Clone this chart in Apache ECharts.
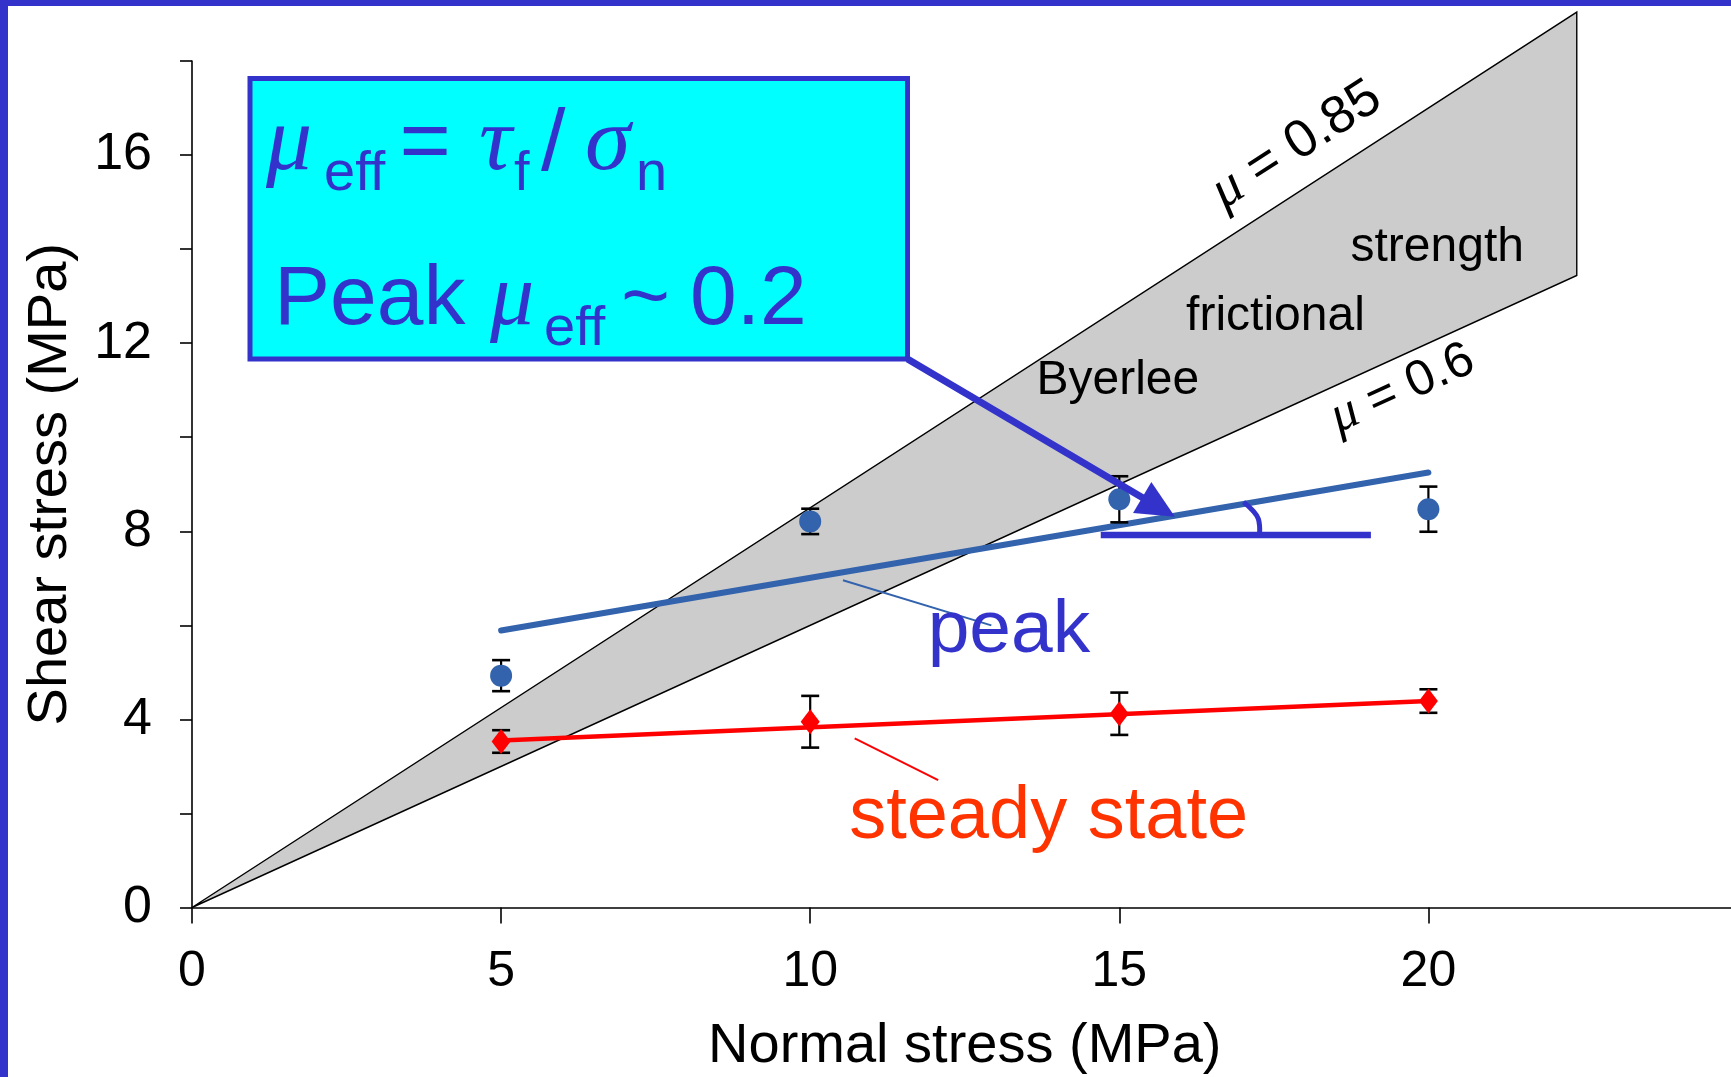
<!DOCTYPE html>
<html>
<head>
<meta charset="utf-8">
<script src="https://cdn.jsdelivr.net/npm/echarts@6/dist/echarts.min.js"></script>
<style>
  html, body { margin: 0; padding: 0; background: #ffffff; }
  #chart { width: 1731px; height: 1077px; }
</style>
</head>
<body>
<div id="chart"></div>
<script>
// Normal stress applied in each test (MPa)
const normalStress = [5, 10, 15, 20];
// Peak shear stress with its scatter (MPa)
const peakShear = [4.93, 8.21, 8.68, 8.47];
const peakErr = [0.33, 0.27, 0.49, 0.48];
// Steady-state shear stress with its scatter (MPa)
const steadyShear = [3.53, 3.95, 4.12, 4.39];
const steadyErr = [0.24, 0.55, 0.45, 0.25];
// Straight-line fits through each data set: [normal stress, shear stress]
const peakFit = [[5, 5.89], [20, 9.25]];
const steadyFit = [[5, 3.55], [20, 4.39]];
// Byerlee friction band: upper and lower friction coefficients, band end (MPa)
const byerleeMu = [0.85, 0.6];
const byerleeEnd = 22.4;
// Labelled ticks
const xTickLabels = [0, 5, 10, 15, 20];
const yTickLabels = [0, 4, 8, 12, 16];

const SANS = '"Liberation Sans", Arial, Helvetica, sans-serif';
const SERIF = '"Liberation Serif", "Times New Roman", serif';
const BLUE = '#3333CC';
const DATA_BLUE = '#3363AD';
const RED = '#FF0000';

const chart = echarts.init(document.getElementById('chart'), null, { renderer: 'canvas' });

chart.setOption({
  animation: false,
  backgroundColor: '#ffffff',
  grid: { left: 192, top: 61, width: 1545.5, height: 846.5, containLabel: false, outerBoundsMode: 'none' },
  xAxis: {
    type: 'value', min: 0, max: 25, interval: 5,
    name: 'Normal stress (MPa)', nameLocation: 'middle', nameGap: 111,
    nameTextStyle: { fontFamily: SANS, fontSize: 56, color: '#000' },
    axisLine: { onZero: false, lineStyle: { color: '#000', width: 1.6 } },
    axisTick: { show: true, inside: false, length: 16, lineStyle: { color: '#000', width: 1.6 } },
    axisLabel: {
      margin: 40, fontFamily: SANS, fontSize: 50, color: '#000',
      formatter: v => (xTickLabels.indexOf(v) >= 0 ? String(v) : '')
    },
    splitLine: { show: false }
  },
  yAxis: {
    type: 'value', min: 0, max: 18, interval: 2,
    name: 'Shear stress (MPa)', nameLocation: 'middle', nameGap: 113, nameRotate: 90,
    nameTextStyle: { fontFamily: SANS, fontSize: 56, color: '#000' },
    axisLine: { show: true, onZero: false, lineStyle: { color: '#000', width: 1.6 } },
    axisTick: { show: true, inside: false, length: 12, lineStyle: { color: '#000', width: 1.6 } },
    axisLabel: {
      margin: 40, fontFamily: SANS, fontSize: 52, color: '#000',
      formatter: v => (yTickLabels.indexOf(v) >= 0 ? String(v) : '')
    },
    splitLine: { show: false }
  },
  series: [
    {
      // Byerlee band between the two friction lines
      type: 'custom', name: 'Byerlee', z: 1, clip: false, silent: true,
      data: [[0, 0]],
      renderItem(params, api) {
        const pts = [
          [0, 0],
          [byerleeEnd, byerleeMu[0] * byerleeEnd],
          [byerleeEnd, byerleeMu[1] * byerleeEnd]
        ].map(p => api.coord(p));
        return {
          type: 'polygon', shape: { points: pts },
          style: { fill: '#CCCCCC', stroke: '#000000', lineWidth: 1.4, lineJoin: 'miter' }
        };
      }
    },
    {
      type: 'line', name: 'steady fit', z: 2, data: steadyFit,
      showSymbol: false, silent: true,
      lineStyle: { color: RED, width: 4.5, cap: 'round' }
    },
    {
      type: 'line', name: 'peak fit', z: 2, data: peakFit,
      showSymbol: false, silent: true,
      lineStyle: { color: DATA_BLUE, width: 6, cap: 'round' }
    },
    {
      // Error bars for both data sets
      type: 'custom', name: 'error', z: 3, clip: false, silent: true,
      data: normalStress.map((x, i) => [x, peakShear[i] - peakErr[i], peakShear[i] + peakErr[i]])
        .concat(normalStress.map((x, i) => [x, steadyShear[i] - steadyErr[i], steadyShear[i] + steadyErr[i]])),
      encode: { x: 0, y: [1, 2] },
      renderItem(params, api) {
        const lo = api.coord([api.value(0), api.value(1)]);
        const hi = api.coord([api.value(0), api.value(2)]);
        const hw = 9;
        const st = { stroke: '#000', lineWidth: 2.2 };
        return {
          type: 'group', children: [
            { type: 'line', shape: { x1: lo[0], y1: lo[1], x2: hi[0], y2: hi[1] }, style: st },
            { type: 'line', shape: { x1: lo[0] - hw, y1: lo[1], x2: lo[0] + hw, y2: lo[1] }, style: { stroke: '#000', lineWidth: 2.6 } },
            { type: 'line', shape: { x1: hi[0] - hw, y1: hi[1], x2: hi[0] + hw, y2: hi[1] }, style: { stroke: '#000', lineWidth: 2.6 } }
          ]
        };
      }
    },
    {
      type: 'scatter', name: 'peak', z: 4, silent: true,
      data: normalStress.map((x, i) => [x, peakShear[i]]),
      symbol: 'circle', symbolSize: 22,
      itemStyle: { color: DATA_BLUE, opacity: 1 }
    },
    {
      type: 'scatter', name: 'steady state', z: 4, silent: true,
      data: normalStress.map((x, i) => [x, steadyShear[i]]),
      symbol: 'diamond', symbolSize: [19, 25],
      itemStyle: { color: RED, opacity: 1 }
    }
  ]
});

// ---- annotation layer ----
const mctx = document.createElement('canvas').getContext('2d');
function fontOf(r) {
  return (r.italic ? 'italic ' : '') + r.size + 'px ' + (r.serif ? SERIF : SANS);
}
function midOffset(font) {
  mctx.font = font;
  mctx.textBaseline = 'alphabetic';
  const m = mctx.measureText('Hg');
  if (m.fontBoundingBoxAscent !== undefined) {
    return (m.fontBoundingBoxAscent - m.fontBoundingBoxDescent) / 2;
  }
  return 0.35 * parseFloat(font.match(/(\d+(\.\d+)?)px/)[1]);
}
function textWidth(font, t) {
  mctx.font = font;
  return mctx.measureText(t).width;
}
// One text run placed with its alphabetic baseline at (x, baseline)
function run(x, baseline, r) {
  const f = fontOf(r);
  return {
    type: 'text', x: x, y: baseline - midOffset(f), z: 20,
    style: { text: r.t, font: f, fill: r.color || '#000', align: 'left', verticalAlign: 'middle' }
  };
}
// Several runs laid out one after another along a (possibly rotated) baseline
function runLine(ox, oy, angle, runs, align) {
  const widths = runs.map(r => textWidth(fontOf(r), r.t));
  const total = widths.reduce((a, b) => a + b, 0);
  let x = align === 'center' ? -total / 2 : 0;
  const children = runs.map((r, i) => {
    const el = run(x, r.dy || 0, r);
    x += widths[i];
    return el;
  });
  return { type: 'group', x: ox, y: oy, rotation: angle, z: 20, children: children };
}

const P = p => chart.convertToPixel({ gridIndex: 0 }, p);
const g = [];

// Frame of the slide
g.push({ type: 'rect', shape: { x: 0, y: 0, width: 8, height: 1077 }, style: { fill: BLUE }, z: 30 });
g.push({ type: 'rect', shape: { x: 0, y: 0, width: 1731, height: 6 }, style: { fill: BLUE }, z: 30 });

// Byerlee band labels
const origin = P([0, 0]);
byerleeMu.forEach((mu, k) => {
  const end = P([byerleeEnd, mu * byerleeEnd]);
  const ang = Math.atan2(origin[1] - end[1], end[0] - origin[0]);
  const up = [-Math.sin(ang), -Math.cos(ang)];
  const footX = k === 0 ? 18.22 : 19.37;
  const foot = P([footX, mu * footX]);
  const d = k === 0 ? 22 : -48;
  const size = k === 0 ? 53 : 50;
  g.push(runLine(foot[0] + up[0] * d, foot[1] + up[1] * d, ang, [
    { t: '\u03BC', size: size + 2, serif: true, italic: true },
    { t: ' = ' + String(mu), size: size }
  ], 'center'));
});
[['Byerlee', 13.66, 10.85], ['frictional', 16.08, 12.2], ['strength', 18.74, 13.68]].forEach(([t, x, y]) => {
  const p = P([x, y]);
  g.push(run(p[0], p[1], { t: t, size: 48 }));
});

// Callout for the peak fit
{
  const a = P([10.53, 6.96]), b = P([12.93, 6.0]);
  g.push({ type: 'line', shape: { x1: a[0], y1: a[1], x2: b[0], y2: b[1] }, style: { stroke: DATA_BLUE, lineWidth: 2 }, z: 15 });
  const t = P([11.9, 5.32]);
  g.push(run(t[0], t[1], { t: 'peak', size: 75, color: BLUE }));
}
// Callout for the steady-state fit
{
  const a = P([10.72, 3.595]), b = P([12.07, 2.71]);
  g.push({ type: 'line', shape: { x1: a[0], y1: a[1], x2: b[0], y2: b[1] }, style: { stroke: RED, lineWidth: 2 }, z: 15 });
  const t = P([10.63, 1.36]);
  g.push(run(t[0], t[1], { t: 'steady state', size: 74, color: '#FF3300' }));
}

// Angle marker under the peak fit
{
  const a = P([14.7, 7.92]), b = P([19.07, 7.92]);
  g.push({ type: 'line', shape: { x1: a[0], y1: a[1], x2: b[0], y2: b[1] }, style: { stroke: BLUE, lineWidth: 6.5 }, z: 16 });
  const arc = [[17.01, 8.62], [17.16, 8.44], [17.25, 8.26], [17.27, 7.96]].map(P);
  g.push({ type: 'polyline', shape: { points: arc, smooth: 0.4 }, style: { stroke: BLUE, lineWidth: 5, fill: null }, z: 16 });
}

// Text box with the effective friction
const box = { x: 250, y: 78.5, w: 657.5, h: 280.5 };
g.push({ type: 'rect', shape: { x: box.x, y: box.y, width: box.w, height: box.h }, style: { fill: '#00FFFF', stroke: BLUE, lineWidth: 5 }, z: 18 });
const L1 = 176, L2 = 330;
[
  [266, L1, { t: '\u03BC', size: 92, serif: true, italic: true }],
  [324, L1 + 18, { t: 'eff', size: 56 }],
  [399.5, L1, { t: '=', size: 88 }],
  [479, L1, { t: '\u03C4', size: 92, serif: true, italic: true }],
  [514, L1 + 18, { t: 'f', size: 56 }],
  [541, L1, { t: '/', size: 88 }],
  [585, L1, { t: '\u03C3', size: 92, serif: true, italic: true }],
  [636, L1 + 18, { t: 'n', size: 56 }],
  [274, L2, { t: 'Peak', size: 84 }],
  [490, L2, { t: '\u03BC', size: 88, serif: true, italic: true }],
  [544, L2 + 19, { t: 'eff', size: 56 }],
  [621, L2, { t: '~', size: 84 }],
  [690, L2, { t: '0.2', size: 84 }]
].forEach(([x, y, r]) => { r.color = BLUE; g.push(run(x, y, r)); });

// Arrow from the box to the peak fit
{
  const s = [box.x + box.w, box.y + box.h];
  const tip = P([15.9, 8.31]);
  const dx = tip[0] - s[0], dy = tip[1] - s[1];
  const len = Math.hypot(dx, dy);
  const ux = dx / len, uy = dy / len;
  const headL = 38, headW = 18;
  const base = [tip[0] - ux * headL, tip[1] - uy * headL];
  g.push({ type: 'line', shape: { x1: s[0], y1: s[1], x2: base[0] + ux * 2, y2: base[1] + uy * 2 }, style: { stroke: BLUE, lineWidth: 7 }, z: 19 });
  g.push({
    type: 'polygon', z: 19,
    shape: { points: [tip, [base[0] - uy * headW, base[1] + ux * headW], [base[0] + uy * headW, base[1] - ux * headW]] },
    style: { fill: BLUE }
  });
}

chart.setOption({ graphic: g });
</script>
</body>
</html>
